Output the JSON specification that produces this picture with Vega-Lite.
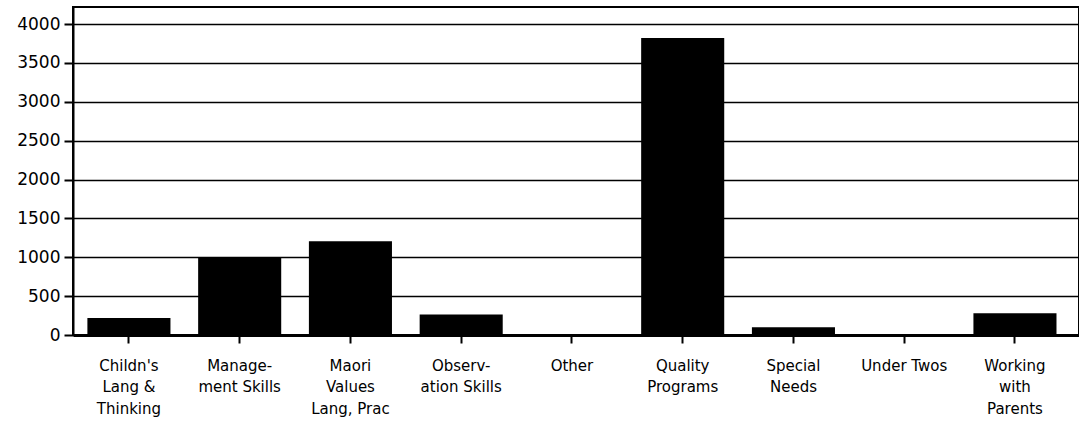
{
  "$schema": "https://vega.github.io/schema/vega-lite/v6.json",
  "autosize": "none",
  "width": 1006,
  "height": 328,
  "padding": {"left": 73, "top": 7, "right": 0, "bottom": 96},
  "background": "white",
  "config": {
    "view": {"stroke": "black", "strokeWidth": 2},
    "axis": {"labelFont": "DejaVu Sans", "labelColor": "black", "labelFontSize": 14, "tickColor": "black", "domainColor": "black"}
  },
  "data": {
    "values": [
      {"topic": "Childn's|Lang &|Thinking", "count": 220},
      {"topic": "Manage-|ment  Skills", "count": 1000},
      {"topic": "Maori|Values|Lang, Prac", "count": 1205},
      {"topic": "Observ-|ation  Skills", "count": 265},
      {"topic": "Other", "count": 0},
      {"topic": "Quality|Programs", "count": 3820},
      {"topic": "Special|Needs", "count": 100},
      {"topic": "Under  Twos", "count": 0},
      {"topic": "Working|with|Parents", "count": 280}
    ]
  },
  "mark": {"type": "bar", "color": "black"},
  "encoding": {
    "x": {
      "field": "topic", "type": "nominal", "sort": null, "title": null,
      "scale": {"paddingInner": 0.25, "paddingOuter": 0.1666, "align": 0.39},
      "axis": {"labelAngle": 0, "labelExpr": "split(datum.label, '|')", "labelLineHeight": 21.5, "labelPadding": 15, "tickSize": 8, "tickWidth": 2, "domainWidth": 3, "labelLimit": 200, "labelFontSize": 15}
    },
    "y": {
      "field": "count", "type": "quantitative", "title": null,
      "scale": {"domain": [0, 4219], "nice": false},
      "axis": {"values": [0, 500, 1000, 1500, 2000, 2500, 3000, 3500, 4000], "format": "d", "grid": true, "gridColor": "black", "gridWidth": 1.5, "gridOpacity": 1, "tickSize": 9, "tickWidth": 2, "domainWidth": 2, "labelPadding": 4, "labelFontSize": 17}
    }
  }
}
